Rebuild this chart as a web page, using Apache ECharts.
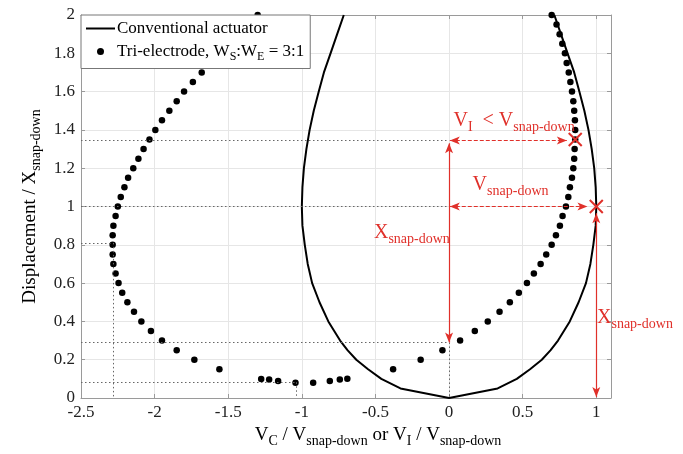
<!DOCTYPE html>
<html lang="en">
<head>
<meta charset="UTF-8">
<title>Displacement vs voltage</title>
<style>
  * { margin: 0; padding: 0; }
  #main { width: 683px; height: 454px; }
</style>
</head>
<body>
<div id="main"></div>
<script src="https://cdn.jsdelivr.net/npm/echarts@6/dist/echarts.min.js"></script>
<script>
  // conventional actuator: |V| / Vsd at each displacement (left branch is the mirror)
  let convY = [0, 0.05, 0.1, 0.15, 0.2, 0.25, 0.3, 0.35, 0.4, 0.5, 0.6, 0.7, 0.8, 0.9, 1.0, 1.1, 1.2, 1.3, 1.4, 1.5, 1.6, 1.7, 1.8, 1.9, 2.0];
  let convV = [0, 0.33, 0.46, 0.55, 0.63, 0.69, 0.74, 0.78, 0.82, 0.88, 0.93, 0.96, 0.98, 0.996, 1.0, 0.996, 0.986, 0.969, 0.947, 0.919, 0.885, 0.85, 0.805, 0.76, 0.715];

  // tri-electrode points (V_C on the left, V_I on the right)
  let triX = [-1.30, -1.68, -1.74, -1.80, -1.85, -1.90, -1.95, -1.995, -2.035, -2.075, -2.11, -2.145, -2.18, -2.205, -2.23, -2.25, -2.265, -2.28, -2.285, -2.285, -2.285, -2.28, -2.265, -2.245, -2.22, -2.185, -2.14, -2.09, -2.025, -1.95, -1.85, -1.73, -1.56,
    -1.276, -1.222, -1.161, -1.043, -0.923, -0.81, -0.742, -0.691,
    -0.38, -0.193, -0.045, 0.075, 0.175, 0.263, 0.343, 0.413, 0.474, 0.529, 0.576, 0.622, 0.66, 0.697, 0.726, 0.753, 0.771, 0.794, 0.81, 0.821, 0.835, 0.844, 0.85, 0.853, 0.857, 0.857, 0.855, 0.85, 0.844, 0.835, 0.824, 0.813, 0.799, 0.787, 0.769, 0.751, 0.73, 0.697];
  let triY = [2.0, 1.7, 1.65, 1.6, 1.55, 1.5, 1.45, 1.4, 1.35, 1.3, 1.25, 1.2, 1.15, 1.1, 1.05, 1.0, 0.95, 0.9, 0.85, 0.8, 0.75, 0.7, 0.65, 0.6, 0.55, 0.5, 0.45, 0.4, 0.35, 0.3, 0.25, 0.2, 0.15,
    0.099, 0.096, 0.089, 0.08, 0.08, 0.089, 0.096, 0.101,
    0.15, 0.2, 0.25, 0.3, 0.35, 0.4, 0.45, 0.5, 0.55, 0.6, 0.65, 0.7, 0.75, 0.8, 0.85, 0.9, 0.95, 1.0, 1.05, 1.1, 1.15, 1.2, 1.25, 1.3, 1.35, 1.4, 1.45, 1.5, 1.55, 1.6, 1.65, 1.7, 1.75, 1.8, 1.85, 1.9, 1.95, 2.0];

  // dotted guide lines: horizontal from the left edge to guideX, then down to 0 if drop
  let guideY = [1.345, 1.0, 0.81, 0.29, 0.082];
  let guideX = [0, 0, -2.28, 0, -1.04];
  let guideDrop = [false, false, true, true, true];

  // red crosses
  let crossX = [0.857, 1.0];
  let crossY = [1.35, 1.0];

  let red = '#e0302a';
  let serif = 'Liberation Serif';

  let convData = [];
  for (let i = convY.length - 1; i >= 0; i--) convData.push([-convV[i], convY[i]]);
  for (let i = 1; i < convY.length; i++) convData.push([convV[i], convY[i]]);

  let triData = triX.map((x, i) => [x, triY[i]]);
  let crossData = crossX.map((x, i) => [x, crossY[i]]);

  let guideLines = [];
  guideY.forEach((y, i) => {
    guideLines.push([{ coord: [-2.5, y] }, { coord: [guideX[i], y] }]);
    if (guideDrop[i]) guideLines.push([{ coord: [guideX[i], y] }, { coord: [guideX[i], 0] }]);
  });

  let dashed = { type: [4, 2], color: red, width: 1 };
  let solid = { type: 'solid', color: red, width: 1.2 };
  let arrows = [
    [{ coord: [0.005, 1.345], lineStyle: dashed }, { coord: [0.80, 1.345] }],
    [{ coord: [0.005, 1.0], lineStyle: dashed }, { coord: [0.94, 1.0] }],
    [{ coord: [0, 0.29], lineStyle: solid }, { coord: [0, 1.33] }],
    [{ coord: [1, 0.005], lineStyle: solid }, { coord: [1, 0.965] }]
  ];

  let rich = {
    m: { fontFamily: serif, fontSize: 20, color: red },
    s: { fontFamily: serif, fontSize: 14, color: red, padding: [14, 0, 0, 0] }
  };
  let notes = [
    { value: [0.03, 1.45], text: '{m|V}{s|I}{m|  < V}{s|snap-down}' },
    { value: [0.16, 1.115], text: '{m|V}{s|snap-down}' },
    { value: [-0.51, 0.865], text: '{m|X}{s|snap-down}' },
    { value: [1.005, 0.42], text: '{m|X}{s|snap-down}' }
  ];

  let blackRich = {
    m: { fontFamily: serif, fontSize: 19, color: '#000' },
    s: { fontFamily: serif, fontSize: 14, color: '#000', padding: [12, 0, 0, 0] }
  };
  let legendRich = {
    m: { fontFamily: serif, fontSize: 17, color: '#000' },
    s: { fontFamily: serif, fontSize: 12, color: '#000', padding: [10, 0, 0, 0] }
  };

  let frame = '#9a9a9a';
  let option = {
    animation: false,
    grid: { left: 81, right: 72, top: 15, bottom: 56, outerBoundsMode: 'none' },
    legend: {
      orient: 'vertical',
      left: 81, top: 15,
      data: [
        { name: 'Conventional actuator', itemStyle: { color: 'transparent', opacity: 0 } },
        { name: 'Tri-electrode', icon: 'circle', itemStyle: { color: '#000', opacity: 1 } }
      ],
      itemWidth: 29, itemHeight: 7, itemGap: 6,
      padding: [5, 6, 6, 4],
      backgroundColor: '#fff',
      borderColor: '#777', borderWidth: 1, borderRadius: 0,
      selectedMode: false,
      formatter: name => name === 'Tri-electrode'
        ? '{m|Tri-electrode, W}{s|S}{m|:W}{s|E}{m| = 3:1}'
        : '{m|Conventional actuator}',
      textStyle: { rich: legendRich, padding: [0, 0, 0, -3] }
    },
    xAxis: [{
      type: 'value', min: -2.5, max: 1.1, interval: 0.5,
      axisLine: { show: true, onZero: false, lineStyle: { color: frame } },
      axisTick: { show: true, inside: true, length: 4, lineStyle: { color: frame } },
      axisLabel: { fontFamily: serif, fontSize: 17, color: '#222', margin: 6, showMaxLabel: false },
      splitLine: { show: true, lineStyle: { color: '#e6e6e6' } },
      name: '{m|V}{s|C}{m| / V}{s|snap-down}{m| or V}{s|I}{m| / V}{s|snap-down}',
      nameLocation: 'middle', nameGap: 24,
      nameTextStyle: { rich: blackRich, padding: [0, 0, 0, 64] }
    }, {
      type: 'value', min: -2.5, max: 1.1, interval: 0.5, position: 'top',
      axisLine: { show: true, onZero: false, lineStyle: { color: frame } },
      axisTick: { show: true, inside: true, length: 4, lineStyle: { color: frame } },
      axisLabel: { show: false },
      splitLine: { show: false }
    }],
    yAxis: [{
      type: 'value', min: 0, max: 2, interval: 0.2,
      axisLine: { show: true, onZero: false, lineStyle: { color: frame } },
      axisTick: { show: true, inside: true, length: 4, lineStyle: { color: frame } },
      axisLabel: { fontFamily: serif, fontSize: 17, color: '#222', margin: 6 },
      splitLine: { show: true, lineStyle: { color: '#e6e6e6' } },
      name: '{m|Displacement / X}{s|snap-down}',
      nameLocation: 'middle', nameGap: 38,
      nameTextStyle: { rich: blackRich }
    }, {
      type: 'value', min: 0, max: 2, interval: 0.2, position: 'right',
      axisLine: { show: true, onZero: false, lineStyle: { color: frame } },
      axisTick: { show: true, inside: true, length: 4, lineStyle: { color: frame } },
      axisLabel: { show: false },
      splitLine: { show: false }
    }],
    series: [
      {
        name: 'Conventional actuator',
        type: 'line',
        data: convData,
        symbol: 'none',
        lineStyle: { color: '#000', width: 2 },
        itemStyle: { color: '#000' },
        z: 3,
        silent: true
      },
      {
        name: 'Tri-electrode',
        type: 'scatter',
        data: triData,
        symbolSize: 6.5,
        itemStyle: { color: '#000', opacity: 1 },
        z: 2,
        silent: true
      },
      {
        name: 'guides',
        type: 'scatter',
        data: [],
        silent: true,
        markLine: {
          silent: true, animation: false,
          symbol: 'none',
          label: { show: false },
          lineStyle: { type: [1.5, 2.5], color: '#666', width: 1 },
          data: guideLines
        }
      },
      {
        name: 'arrows',
        type: 'scatter',
        data: crossData,
        symbol: 'path://M0 0L10 10M10 0L0 10',
        symbolSize: 13,
        itemStyle: { color: 'none', borderColor: red, borderWidth: 2, opacity: 1 },
        z: 5,
        silent: true,
        markLine: {
          silent: true, animation: false,
          symbol: ['arrow', 'arrow'],
          symbolSize: [6, 10],
          label: { show: false },
          lineStyle: { color: red, opacity: 1 },
          data: arrows
        }
      },
      {
        name: 'notes',
        type: 'scatter',
        data: notes.map(n => ({
          value: n.value,
          label: { show: true, position: 'right', distance: 0, formatter: n.text, rich: rich }
        })),
        symbolSize: 0,
        itemStyle: { opacity: 1 },
        z: 6,
        silent: true
      }
    ]
  };

  let myChart = echarts.init(document.getElementById('main'));
  myChart.setOption(option);
</script>
</body>
</html>
